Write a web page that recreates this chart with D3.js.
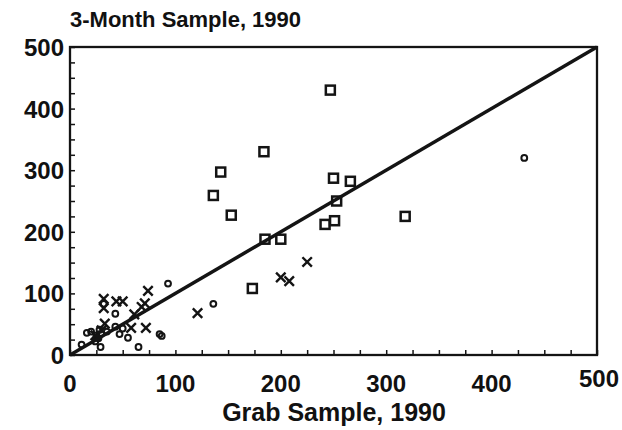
<!DOCTYPE html>
<html>
  <head>
    <meta charset="utf-8">
    <title>3-Month vs Grab Sample</title>
    <script type="text/javascript" src="https://d3js.org/d3.v7.min.js"></script>
    <style>
      body { margin: 0; background: #fff; }
      text { font-family: "Liberation Sans", Arial, sans-serif; font-weight: bold; fill: #111; }
    </style>
  </head>
  <body>
    <svg width="622" height="430"></svg>
    <script>
      // data (grab sample = x, 3-month sample = y)
      var squareGrab  = [247, 143, 184, 136, 153, 185, 200, 250, 266, 253, 242, 251, 318, 173];
      var squareMonth = [430, 297, 330, 259, 227, 188, 188, 287, 282, 250, 212, 218, 225, 108];

      var crossGrab  = [225, 200, 208, 121, 32, 32, 44, 50, 74, 71, 61, 33, 58, 72, 24, 30, 68];
      var crossMonth = [151, 126, 120, 68, 91, 76, 87, 87, 104, 84, 66, 51, 44, 44, 32, 40, 78];

      var circleGrab  = [431, 93, 136, 32, 43, 43, 55, 65, 85, 87, 11, 16, 20, 25, 28, 27, 29, 24, 35, 47, 50];
      var circleMonth = [320, 116, 83, 83, 67, 46, 28, 13, 34, 31, 17, 36, 38, 32, 41, 27, 13, 22, 38, 34, 43];

      var tickValues = [0, 100, 200, 300, 400, 500];

      var svg = d3.select("svg");
      var ink = "#141414";

      var x = d3.scaleLinear().domain([0, 500]).range([70, 597]);
      var y = d3.scaleLinear().domain([0, 500]).range([355, 47]);

      function pairs(xs, ys) {
        return xs.map(function(v, i) { return [v, ys[i]]; });
      }

      // minor ticks, inward
      var minor = d3.range(0, 501, 25);
      var xAxis = svg.append("g")
        .attr("transform", "translate(0," + y(0) + ")")
        .call(d3.axisTop(x).tickValues(minor).tickSize(5).tickFormat(""));
      var yAxis = svg.append("g")
        .attr("transform", "translate(" + x(0) + ",0)")
        .call(d3.axisRight(y).tickValues(minor).tickSize(5).tickFormat(""));
      [xAxis, yAxis].forEach(function(a) {
        a.select(".domain").remove();
        a.selectAll("line").attr("stroke", ink).attr("stroke-width", 1.5);
      });

      // frame
      svg.append("rect")
        .attr("x", x(0)).attr("y", y(500))
        .attr("width", x(500) - x(0)).attr("height", y(0) - y(500))
        .attr("fill", "none").attr("stroke", ink).attr("stroke-width", 2.3);

      // tick labels
      svg.selectAll(".xl").data(tickValues).enter().append("text")
        .attr("x", function(d) { return x(d) + (d == 500 ? 2 : 0); })
        .attr("y", function(d) { return d == 500 ? 387 : 392; })
        .attr("text-anchor", "middle")
        .attr("font-size", 24)
        .text(function(d) { return d; });
      svg.selectAll(".yl").data(tickValues).enter().append("text")
        .attr("x", 64)
        .attr("y", function(d) { return y(d) + 9; })
        .attr("text-anchor", "end")
        .attr("font-size", 24)
        .text(function(d) { return d; });

      // titles
      svg.append("text").attr("x", 70).attr("y", 27).attr("font-size", 22)
        .text("3-Month Sample, 1990");
      svg.append("text").attr("x", 334).attr("y", 421).attr("font-size", 25)
        .attr("text-anchor", "middle")
        .text("Grab Sample, 1990");

      // markers
      svg.selectAll(".sq").data(pairs(squareGrab, squareMonth)).enter().append("rect")
        .attr("x", function(d) { return x(d[0]) - 4.5; })
        .attr("y", function(d) { return y(d[1]) - 4.5; })
        .attr("width", 9).attr("height", 9)
        .attr("fill", "none").attr("stroke", ink).attr("stroke-width", 2.5);

      var cross = d3.symbol().type(d3.symbolX).size(60);
      svg.selectAll(".cr").data(pairs(crossGrab, crossMonth)).enter().append("path")
        .attr("transform", function(d) { return "translate(" + x(d[0]) + "," + y(d[1]) + ")"; })
        .attr("d", cross)
        .attr("fill", "none").attr("stroke", ink).attr("stroke-width", 2.4);

      svg.selectAll(".ci").data(pairs(circleGrab, circleMonth)).enter().append("circle")
        .attr("cx", function(d) { return x(d[0]); })
        .attr("cy", function(d) { return y(d[1]); })
        .attr("r", 2.9)
        .attr("fill", "none").attr("stroke", ink).attr("stroke-width", 2);

      // 1:1 line
      svg.append("line")
        .attr("x1", x(0)).attr("y1", y(0))
        .attr("x2", x(500)).attr("y2", y(500))
        .attr("stroke", ink).attr("stroke-width", 3.5);
    </script>
  </body>
</html>
